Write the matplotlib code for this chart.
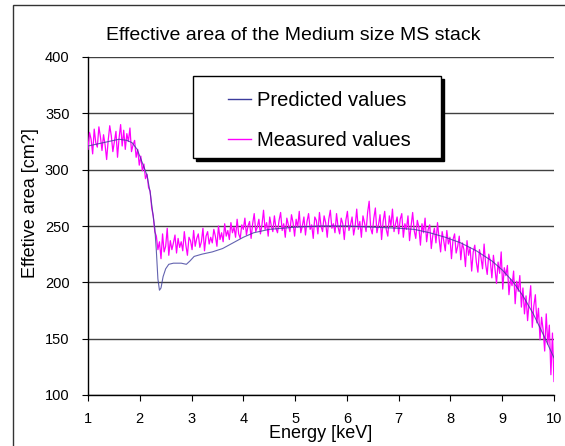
import numpy as np
import matplotlib.pyplot as plt
from matplotlib.patches import Rectangle
from matplotlib.lines import Line2D

plt.rcParams['font.family'] = ['Liberation Sans', 'DejaVu Sans']

W, H = 565, 446  # figure size in pixels

title = 'Effective area of the Medium size MS stack'
x_label = 'Energy [keV]'
y_label = 'Effetive area [cm?]'
x_ticks = [1, 2, 3, 4, 5, 6, 7, 8, 9, 10]
y_ticks = [100, 150, 200, 250, 300, 350, 400]
names = ['Predicted values', 'Measured values']

# predicted curve
pred_e = [1.0, 1.2, 1.4, 1.6, 1.75, 1.85, 1.95, 2.05, 2.14, 2.2, 2.25, 2.29,
          2.32, 2.35, 2.38, 2.41, 2.45, 2.5, 2.56, 2.65, 2.8, 2.9, 2.97, 3.05,
          3.2, 3.4, 3.6, 3.8, 4.0, 4.2, 4.5, 5.0, 5.5, 6.0, 6.5, 7.0, 7.3,
          7.6, 7.9, 8.2, 8.5, 8.8, 9.0, 9.2, 9.4, 9.6, 9.8, 10.0]
pred_a = [321, 323, 325, 327, 326, 324, 318, 306, 295, 280, 262, 248,
          228, 203, 193, 195, 205, 212, 216, 217, 217, 216, 219, 223,
          225, 227, 230, 235, 240, 244, 247, 249, 250, 250, 249, 248, 247,
          244, 240, 235, 228, 219, 211, 201, 188, 172, 153, 133]

# measured values, one every 0.03 keV starting at 1 keV
meas_step = 0.03
meas_a = [
    318, 333, 327, 314, 336, 324, 320, 338, 329, 317,
    331, 322, 309, 326, 339, 330, 316, 325, 334, 311,
    328, 340, 321, 335, 318, 332, 325, 337, 316, 322,
    326, 311, 318, 304, 312, 299, 305, 292, 296, 284,
    281, 266, 259, 245, 241, 229, 236, 221, 243, 227,
    232, 248, 224, 237, 229, 235, 242, 226, 239, 231,
    236, 228, 245, 233, 224, 240, 237, 229, 246, 232,
    239, 243, 231, 236, 248, 228, 241, 245, 234, 240,
    235, 247, 241, 232, 250, 238, 244, 236, 252, 241,
    246, 238, 253, 244, 249, 240, 256, 243, 239, 251,
    247, 257, 242, 250, 254, 239, 252, 261, 245, 249,
    256, 243, 251, 264, 247, 253, 241, 258, 250, 245,
    259, 248, 244, 255, 262, 246, 252, 240, 257, 251,
    245, 260, 253, 241, 256, 249, 263, 244, 250, 258,
    242, 254, 261, 247, 251, 239, 258, 255, 243, 262,
    250, 245, 259, 253, 240, 256, 264, 248, 252, 244,
    261, 249, 243, 257, 252, 238, 255, 263, 246, 251,
    258, 242, 250, 265, 247, 254, 240, 259, 253, 245,
    262, 272, 248, 243, 257, 266, 244, 251, 260, 238,
    254, 263, 247, 241, 259, 250, 265, 245, 252, 258,
    243, 256, 261, 240, 252, 247, 259, 237, 250, 262,
    246, 239, 255, 249, 233, 252, 244, 257, 236, 247,
    251, 230, 242, 248, 235, 253, 239, 227, 245, 237,
    228, 246, 234, 240, 221, 238, 243, 226, 232, 241,
    220, 235, 229, 214, 237, 224, 231, 210, 227, 233,
    218, 209, 229, 222, 212, 234, 216, 207, 225, 219,
    204, 224, 212, 199, 218, 208, 227, 194, 213, 206,
    215, 189, 203, 197, 210, 181, 201, 192, 206, 178,
    195, 172, 188, 166, 183, 197, 160, 179, 189, 164,
    177, 149, 169, 158, 139, 172, 145, 162, 118, 155,
    112,
]
meas_e = 1.0 + meas_step * np.arange(len(meas_a))

pred_color = '#3c3c9c'
meas_color = '#ff00ff'


def px(x, y):
    # pixel position (from top left) -> figure fraction
    return x / W, 1 - y / H


fig = plt.figure(figsize=(W / 100, H / 100), dpi=100)
ax = fig.add_axes([88 / W, 1 - 395 / H, (554 - 88) / W, (395 - 57) / H])

ax.plot(meas_e, meas_a, color=meas_color, lw=0.9, zorder=3)
ax.plot(pred_e, pred_a, color=pred_color, lw=0.8, alpha=0.8, zorder=4)

ax.set_xlim(1, 10)
ax.set_ylim(100, 400)
ax.set_xticks(x_ticks)
ax.set_yticks(y_ticks)
ax.yaxis.grid(True, color='#404040', lw=1.0)
ax.set_axisbelow(True)
for s in ['top', 'right']:
    ax.spines[s].set_visible(False)
for s in ['left', 'bottom']:
    ax.spines[s].set_linewidth(1.0)
ax.tick_params(direction='out', length=4.3, width=0.8, labelsize=10.5)
ax.tick_params(axis='y', pad=9)
ax.tick_params(axis='x', pad=8)

ax.set_xlabel(x_label, fontsize=13)
ax.xaxis.set_label_coords(0.5, (395 - 438) / 338)
ax.xaxis.label.set_va('baseline')
ax.set_ylabel(y_label, fontsize=13)
ax.yaxis.set_label_coords((35 - 88) / 466, (395 - 203) / 338)
ax.yaxis.label.set_va('baseline')

fig.text(293 / W, 1 - 40 / H, title, ha='center', va='baseline', fontsize=14)

# legend box with a hard black shadow, Excel style
fig.add_artist(Rectangle(px(196, 161), 248 / W, 82 / H, transform=fig.transFigure,
                         facecolor='k', edgecolor='k', lw=1, zorder=5))
fig.add_artist(Rectangle(px(193, 158), 248 / W, 82 / H, transform=fig.transFigure,
                         facecolor='white', edgecolor='k', lw=1, zorder=6))
for name, col, yl, yt in zip(names, [pred_color, meas_color], [99, 139], [105.5, 145.5]):
    x0, y0 = px(228, yl)
    x1, _ = px(251, yl)
    fig.add_artist(Line2D([x0, x1], [y0, y0], transform=fig.transFigure,
                          color=col, lw=1, zorder=7))
    fig.text(257 / W, 1 - yt / H, name, ha='left', va='baseline', fontsize=14.5, zorder=7)

# outer chart border
fig.add_artist(Rectangle(px(13, 460), 600 / W, 455 / H, transform=fig.transFigure,
                         facecolor='none', edgecolor='#333333', lw=1, zorder=8))

fig.savefig('out.png', dpi=100)
